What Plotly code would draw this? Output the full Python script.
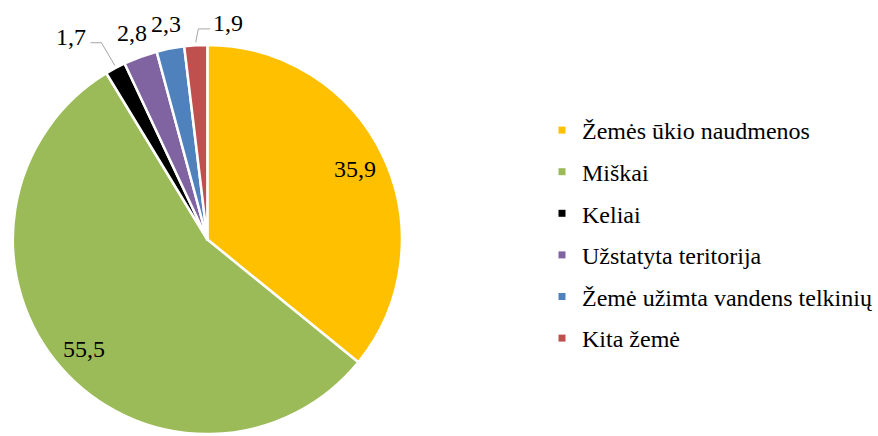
import math
import plotly.graph_objects as go

# ---- data ----
categories = ["Žemės ūkio naudmenos", "Miškai", "Keliai", "Užstatyta teritorija",
              "Žemė užimta vandens telkinių", "Kita žemė"]
values = [35.9, 55.5, 1.7, 2.8, 2.3, 1.9]
colors = ["#FFC000", "#9BBB59", "#000000", "#8064A2", "#4F81BD", "#C0504D"]

# ---- layout constants (pixels) ----
W, H = 878, 436
CX, CY, R = 210, 240, 197
FONT = "Liberation Serif"
FS = 24
label_mode = ["in", "in", "lead", "out", "out", "lead"]
lead_shift = {2: (-34, -8.5), 5: (34, 3)}          # label displacement from default outside spot
lead_path = {2: (20, 31, 5.5), 5: (-18, -30, 6)}   # horizontal seg start/end x, y offset rel. label


def px2paper(x, y):
    return x / W, 1 - y / H


def polar(angle_deg, r):
    a = math.radians(angle_deg)
    return CX + r * math.sin(a), CY - r * math.cos(a)


def fmt(v):
    return f"{v:.1f}".replace(".", ",")


total = sum(values)
mids = []
cum = 0
for v in values:
    mids.append((cum + v / 2) / total * 360)
    cum += v

fig = go.Figure()
fig.add_trace(go.Pie(
    labels=categories, values=values, sort=False, direction="clockwise", rotation=0,
    marker=dict(colors=colors, line=dict(color="white", width=2.5)),
    textinfo="none", hoverinfo="label+value", showlegend=False,
    domain=dict(x=[(CX - R) / W, (CX + R) / W], y=[max(0, 1 - (CY + R) / H), 1 - (CY - R) / H]),
))

# legend entries
for i, (c, col) in enumerate(zip(categories, colors)):
    fig.add_trace(go.Scatter(
        x=[None], y=[None], mode="markers", name=c, legendgroup=f"g{i}",
        marker=dict(symbol="square", size=7, color=col, line=dict(width=0)),
    ))

annotations = []
shapes = []
for i, v in enumerate(values):
    mode = label_mode[i]
    if mode == "in":
        lx, ly = polar(mids[i], 0.84 * R)
    else:
        lx, ly = polar(mids[i], R + 23.5)
        if mode == "lead":
            dx, dy = lead_shift[i]
            lx, ly = lx + dx, ly + dy
            a, b, oy = lead_path[i]
            ex, ey = polar(mids[i], R + 1)
            pts = [(lx + a, ly + oy), (lx + b, ly + oy), (ex, ey)]
            path = "M " + " L ".join(f"{px2paper(x, y)[0]},{px2paper(x, y)[1]}" for x, y in pts)
            shapes.append(dict(type="path", xref="paper", yref="paper", path=path,
                               line=dict(color="#A6A6A6", width=1)))
    px, py = px2paper(lx, ly)
    annotations.append(dict(x=px, y=py, xref="paper", yref="paper", text=fmt(v),
                            showarrow=False, xanchor="center", yanchor="middle",
                            font=dict(family=FONT, size=FS, color="black")))

fig.update_layout(
    width=W, height=H, margin=dict(l=0, r=0, t=0, b=0),
    paper_bgcolor="white", plot_bgcolor="white",
    font=dict(family=FONT, size=FS, color="black"),
    xaxis=dict(visible=False), yaxis=dict(visible=False),
    annotations=annotations, shapes=shapes,
    legend=dict(x=(589 - 40) / W, xanchor="left", y=1 - 108 / H, yanchor="top",
                font=dict(family=FONT, size=FS, color="black"),
                traceorder="grouped", tracegroupgap=7.4,
                bgcolor="rgba(0,0,0,0)", borderwidth=0),
    showlegend=True,
)

fig.write_html("out.html")
